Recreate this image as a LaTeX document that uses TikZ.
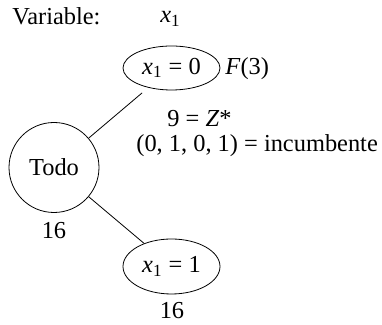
\documentclass[tikz,border=0pt]{standalone}
\usepackage{fontspec}
\setmainfont{Liberation Serif}
\usetikzlibrary{shapes.geometric}

\newcommand{\xone}{\textit{x}\textsubscript{1}}

\begin{document}
\begin{tikzpicture}[x=0.5pt,y=-0.5pt,font=\fontsize{12.2}{14}\selectfont,
  txt/.style={inner sep=0pt,anchor=base west},
  branch/.style={draw,ellipse,inner sep=0pt,minimum width=48.5pt}]
\useasboundingbox (0,0) rectangle (382,325);
% Header row
\node[txt] (var) at (12,25) {Variable:};
\node[txt] (varx) at (160,23) {\xone};

% Root node
\node[draw,circle,minimum size=45pt,inner sep=0pt] (todo) at (54,167.5) {Todo};
\node[inner sep=0pt,anchor=base] (todobd) at (54,239) {16};

% Branch x1 = 0 (fathomed)
\node[branch,minimum height=22pt] (b0) at (171.5,68) {\xone\ = 0};
\node[txt] (f3) at (b0.base -| 225,0) {\textit{F}(3)};
\node[txt] (zstar) at (167,127) {9 = \textit{Z}*};
\node[txt] (inc) at (136,152) {(0, 1, 0, 1) = incumbente};

% Branch x1 = 1
\node[branch,minimum height=27.5pt] (b1) at (171.5,266.5) {\xone\ = 1};
\node[inner sep=0pt,anchor=base] (b1bd) at (172,319) {16};

\draw[shorten >=4pt] (todo) -- (b0);
\draw (todo) -- (b1);
\end{tikzpicture}
\end{document}
